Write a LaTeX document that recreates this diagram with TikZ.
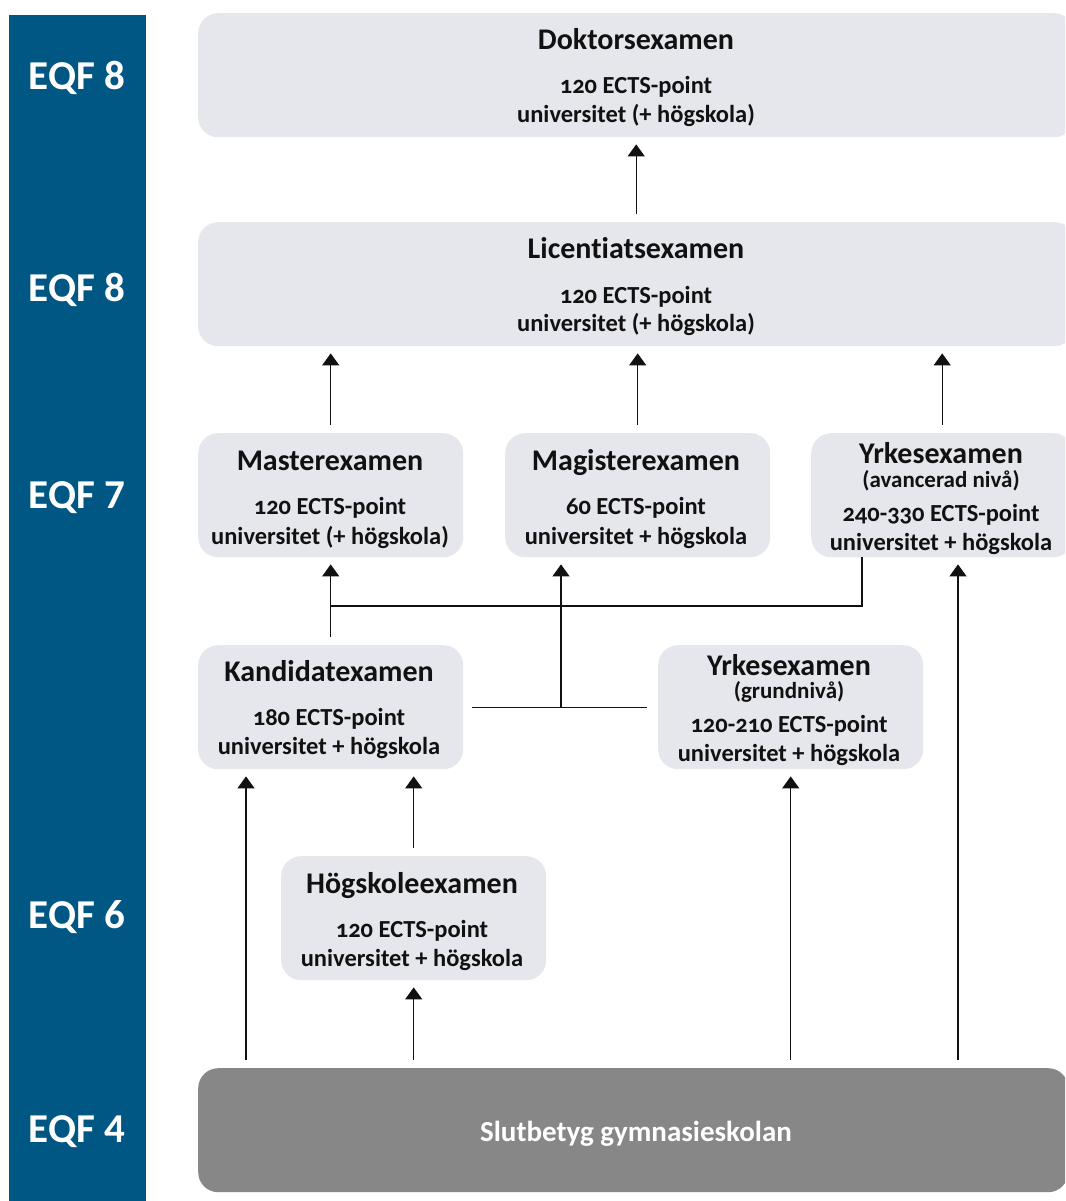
\documentclass[tikz,border=0pt]{standalone}
\usepackage{fontspec}
\setmainfont{Carlito}[Numbers=OldStyle, Ligatures=NoCommon]
\usetikzlibrary{arrows.meta}
\definecolor{eqfblue}{HTML}{005783}
\definecolor{boxgray}{HTML}{E6E7EC}
\definecolor{basegray}{HTML}{878787}
\definecolor{ink}{HTML}{111111}
\begin{document}
\begin{tikzpicture}[x=1pt,y=-1pt,
  box/.style={rectangle, rounded corners=20pt, fill=boxgray, anchor=north west, inner sep=0pt, minimum height=124pt},
  ttl/.style={anchor=base, inner sep=0pt, text=ink, font=\bfseries\fontsize{30}{33}\selectfont},
  sub/.style={anchor=base, inner sep=0pt, text=ink, font=\bfseries\fontsize{23}{26}\selectfont},
  txt/.style={anchor=base, inner sep=0pt, text=ink, font=\bfseries\fontsize{24.5}{28}\selectfont},
  eqf/.style={anchor=base, inner sep=0pt, text=white, font=\bfseries\fontsize{41}{44}\selectfont\addfontfeatures{Numbers=Lining}},
  link/.style={line width=1.3pt, draw=ink},
  arr/.style={link, -{Triangle[width=17pt,length=12pt]}, shorten <=8pt, shorten >=7pt}
]
\clip (0,0) rectangle (1065,1201);
\fill[white] (0,0) rectangle (1065,1201);

% level column
\fill[eqfblue] (9,15) rectangle (146,1210);
\node[eqf] (e1) at (77,90)   {EQF 8};
\node[eqf] (e2) at (77,301)  {EQF 8};
\node[eqf] (e3) at (77,508)  {EQF 7};
\node[eqf] (e4) at (77,928)  {EQF 6};
\node[eqf] (e5) at (77,1142) {EQF 4};

% degree boxes
\node[box, minimum width=876pt] (dok) at (198,13)  {};
\node[box, minimum width=876pt] (lic) at (198,222) {};
\node[box, minimum width=265pt] (mas) at (198,433) {};
\node[box, minimum width=265pt] (mag) at (505,433) {};
\node[box, minimum width=262pt] (yav) at (811,433) {};
\node[box, minimum width=265pt] (kan) at (198,645) {};
\node[box, minimum width=265pt] (ygr) at (658,645) {};
\node[box, minimum width=265pt] (hog) at (281,856) {};
\node[box, minimum width=870pt, fill=basegray] (slut) at (198,1068) {};

% box texts
\node[ttl] (dokT) at (636,50)  {Doktorsexamen};
\node[txt] (dokA) at (636,94)  {120 ECTS-point};
\node[txt] (dokB) at (636,123) {universitet (+ högskola)};

\node[ttl] (licT) at (636,258) {Licentiatsexamen};
\node[txt] (licA) at (636,303) {120 ECTS-point};
\node[txt] (licB) at (636,331) {universitet (+ högskola)};

\node[ttl] (masT) at (330,470) {Masterexamen};
\node[txt] (masA) at (330,514) {120 ECTS-point};
\node[txt] (masB) at (330,544) {universitet (+ högskola)};

\node[ttl] (magT) at (636,470) {Magisterexamen};
\node[txt] (magA) at (636,514) {60 ECTS-point};
\node[txt] (magB) at (636,544) {universitet + högskola};

\node[ttl] (yavT) at (941,463) {Yrkesexamen};
\node[sub] (yavS) at (941,487) {(avancerad nivå)};
\node[txt] (yavA) at (941,521) {240-330 ECTS-point};
\node[txt] (yavB) at (941,550) {universitet + högskola};

\node[ttl] (kanT) at (329,681) {Kandidatexamen};
\node[txt] (kanA) at (329,725) {180 ECTS-point};
\node[txt] (kanB) at (329,754) {universitet + högskola};

\node[ttl] (ygrT) at (789,675) {Yrkesexamen};
\node[sub] (ygrS) at (789,698) {(grundnivå)};
\node[txt] (ygrA) at (789,732) {120-210 ECTS-point};
\node[txt] (ygrB) at (789,761) {universitet + högskola};

\node[ttl] (hogT) at (412,893) {Högskoleexamen};
\node[txt] (hogA) at (412,937) {120 ECTS-point};
\node[txt] (hogB) at (412,966) {universitet + högskola};

\node[anchor=base, inner sep=0pt, text=white, font=\bfseries\fontsize{29}{32}\selectfont] (slutT) at (636,1141) {Slutbetyg gymnasieskolan};

% connectors
\draw[arr] (lic.north) -- (dok.south);
\draw[arr] (mas.north) -- (mas.north |- lic.south);
\draw[arr] (mag.north) -- (mag.north |- lic.south);
\draw[arr] (yav.north) -- (yav.north |- lic.south);

% paths into Masterexamen
\coordinate (jm) at (330.5,606);
\coordinate (yavdrop) at ([xshift=51pt]yav.south west);
\draw[arr] (kan.north) -- (mas.south);
\draw[link] (jm) -| (yavdrop);

% paths into Magisterexamen
\coordinate (jg) at ([xshift=56pt]mag.south west |- kan.east);
\draw[link] ([xshift=9pt]kan.east) -- ([xshift=-11pt]ygr.west);
\draw[arr, shorten <=0pt] (jg) -- (jg |- mag.south);

% paths from Slutbetyg and Högskoleexamen
\coordinate (kanin) at ([xshift=48pt]kan.south west);
\coordinate (yavin) at ([xshift=147pt]yav.south west);
\draw[arr] (kanin |- slut.north) -- (kanin);
\draw[arr] (hog.north) -- (hog.north |- kan.south);
\draw[arr] (hog.south |- slut.north) -- (hog.south);
\draw[arr] (ygr.south |- slut.north) -- (ygr.south);
\draw[arr] (yavin |- slut.north) -- (yavin);
\end{tikzpicture}
\end{document}
